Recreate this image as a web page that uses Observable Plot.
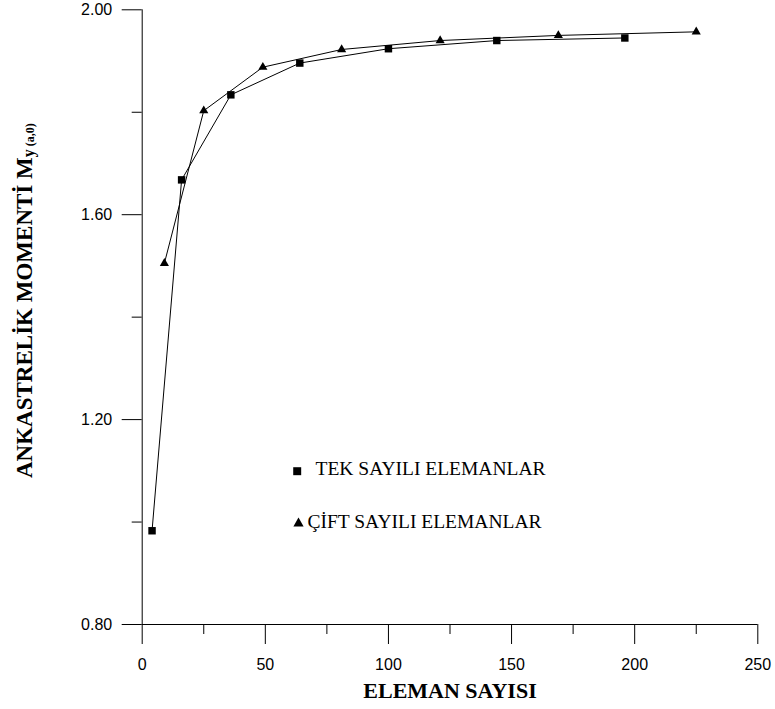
<!DOCTYPE html>
<html>
<head>
<meta charset="utf-8">
<script src="https://cdn.jsdelivr.net/npm/d3@7"></script>
<script src="https://cdn.jsdelivr.net/npm/@observablehq/plot@0.6"></script>
<style>
  html, body { margin: 0; padding: 0; background: #fff; }
</style>
</head>
<body>
<div id="chart"></div>
<script>
// Data: TEK SAYILI ELEMANLAR (squares), ÇİFT SAYILI ELEMANLAR (triangles)
const tekX = [4, 16, 36, 64, 100, 144, 196];
const tekY = [0.983, 1.668, 1.834, 1.896, 1.924, 1.940, 1.945];
const ciftX = [9, 25, 49, 81, 121, 169, 225];
const ciftY = [1.505, 1.803, 1.888, 1.9225, 1.940, 1.950, 1.957];

const xMajorTicks = [0, 50, 100, 150, 200, 250];
const xMinorTicks = [25, 75, 125, 175, 225];
const yMajorTicks = [0.80, 1.20, 1.60, 2.00];
const yMinorTicks = [1.00, 1.40, 1.80];

const xTitle = "ELEMAN SAYISI";
const yTitleMain = "ANKASTRELİK MOMENTİ M";
const yTitleSub = "y";
const yTitleSub2 = " (a,0)";
const legendLabels = ["TEK SAYILI ELEMANLAR", "ÇİFT SAYILI ELEMANLAR"];

const tek = tekX.map((x, i) => ({x, y: tekY[i]}));
const cift = ciftX.map((x, i) => ({x, y: ciftY[i]}));

const sansTick = "'Liberation Sans', Arial, Helvetica, sans-serif";
const serif = "'Liberation Serif', 'Times New Roman', serif";

const svg = Plot.plot({
  width: 775,
  height: 709,
  marginLeft: 141.7,
  marginRight: 17.7,
  marginTop: 9.3,
  marginBottom: 85,
  style: {background: "#fff", color: "#000", fontFamily: sansTick, fontSize: "16px"},
  x: {domain: [0, 250], nice: false},
  y: {domain: [0.8, 2.0], nice: false},
  marks: [
    // axis lines
    Plot.ruleX([0], {stroke: "#000", strokeWidth: 1}),
    Plot.ruleY([0.8], {stroke: "#000", strokeWidth: 1}),
    // x axis
    Plot.axisX(xMajorTicks, {tickSize: 20, tickPadding: 14, tickFormat: d => String(d), fontSize: 16, fontFamily: sansTick, label: null, stroke: "#000"}),
    Plot.axisX(xMinorTicks, {tickSize: 10, tickFormat: () => "", label: null, stroke: "#000"}),
    // y axis
    Plot.axisY(yMajorTicks, {tickSize: 20, tickPadding: 10, tickFormat: d3.format(".2f"), fontSize: 16, fontFamily: sansTick, label: null, stroke: "#000"}),
    Plot.axisY(yMinorTicks, {tickSize: 10, tickFormat: () => "", label: null, stroke: "#000"}),
    // series lines
    Plot.line(tek, {x: "x", y: "y", stroke: "#000", strokeWidth: 1}),
    Plot.line(cift, {x: "x", y: "y", stroke: "#000", strokeWidth: 1}),
    // markers
    Plot.dot(tek, {x: "x", y: "y", symbol: "square", r: 4.2, fill: "#000", stroke: "none"}),
    Plot.dot(cift, {x: "x", y: "y", symbol: "triangle", r: 3.4, fill: "#000", stroke: "none"}),
    // legend
    Plot.dot([legendLabels[0]], {frameAnchor: "top-left", dx: 155, dy: 461.4, symbol: "square", r: 4.5, fill: "#000", stroke: "none"}),
    Plot.dot([legendLabels[1]], {frameAnchor: "top-left", dx: 156.3, dy: 513.7, symbol: "triangle", r: 3.8, fill: "#000", stroke: "none"}),
    Plot.text([legendLabels[0]], {text: d => d, frameAnchor: "top-left", dx: 173.3, dy: 464.7, textAnchor: "start", lineAnchor: "bottom", fontFamily: serif, fontSize: 19.5, fill: "#000"}),
    Plot.text([legendLabels[1]], {text: d => d, frameAnchor: "top-left", dx: 165.3, dy: 517.7, textAnchor: "start", lineAnchor: "bottom", fontFamily: serif, fontSize: 19.5, fill: "#000"}),
    // x title
    Plot.text([xTitle], {text: d => d, frameAnchor: "bottom", dy: 73, lineAnchor: "bottom", fontFamily: serif, fontWeight: "bold", fontSize: 22, fill: "#000"})
  ]
});

// y title with subscript
const yt = d3.select(svg).append("text")
  .attr("transform", "translate(32,478) rotate(-90)")
  .attr("text-anchor", "start")
  .attr("font-family", serif)
  .attr("font-weight", "bold")
  .attr("font-size", 23)
  .attr("fill", "#000");
yt.append("tspan").text(yTitleMain);
yt.append("tspan").attr("font-size", 16).attr("dy", 2).text(yTitleSub);
yt.append("tspan").attr("font-size", 12).text(yTitleSub2);

document.getElementById("chart").appendChild(svg);
</script>
</body>
</html>
